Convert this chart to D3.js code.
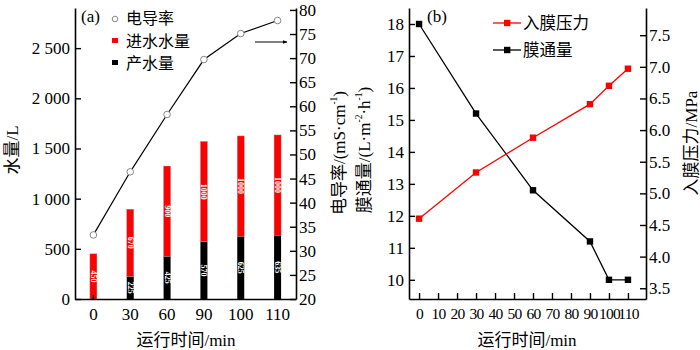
<!DOCTYPE html>
<html>
<head>
<meta charset="utf-8">
<script src="https://cdn.jsdelivr.net/npm/d3@7"></script>
<style>
  body { margin: 0; background: #fff; }
</style>
</head>
<body>
<svg id="chart" width="700" height="350"></svg>
<script>
// (a) 水量 + 电导率
const timesA = ['0', '30', '60', '90', '100', '110'];
const inflow = [450, 670, 900, 1000, 1000, 1000];
const product = [0, 225, 425, 570, 625, 635];
const conductivity = [33.3, 46.4, 58.3, 69.7, 75.1, 77.8];
const waterTicks = [0, 500, 1000, 1500, 2000, 2500];
const condTicks = [20, 25, 30, 35, 40, 45, 50, 55, 60, 65, 70, 75, 80];

// (b) 膜通量 + 入膜压力
const timesB = [0, 30, 60, 90, 100, 110];
const pressure = [4.6, 5.33, 5.88, 6.41, 6.7, 6.97];
const flux = [18.0, 15.2, 12.8, 11.2, 10.0, 10.0];
const fluxTicks = [10, 11, 12, 13, 14, 15, 16, 17, 18];
const pressureTicks = [3.5, 4.0, 4.5, 5.0, 5.5, 6.0, 6.5, 7.0, 7.5];
const minuteTicks = d3.range(0, 111, 10);

const FONT = '"Liberation Serif", "Times New Roman", "Noto Sans CJK SC", serif';
const svg = d3.select('#chart').attr('font-family', FONT);
const plotTop = 8, plotBottom = 299;
const fs = 17;

function styleAxis(g) {
  g.attr('font-family', FONT).attr('font-size', fs);
  g.select('.domain').attr('stroke', '#000').attr('stroke-width', 1.6);
  g.selectAll('.tick line').attr('stroke', '#000').attr('stroke-width', 1.4);
  g.selectAll('.tick text').attr('fill', '#000');
}

function rotLabel(x, y, parts) {
  const t = svg.append('text')
    .attr('transform', `translate(${x},${y}) rotate(-90)`)
    .attr('text-anchor', 'middle')
    .attr('dominant-baseline', 'central')
    .attr('font-size', fs);
  parts.forEach(([s, sup]) => {
    if (sup) {
      t.append('tspan').attr('font-size', 9.5).attr('baseline-shift', '55%').text(s);
    } else {
      t.append('tspan').text(s);
    }
  });
  return t;
}

// ---------- panel (a) ----------
const ax = d3.scaleBand().domain(timesA).range([75, 296]).padding(0);
const ayL = d3.scaleLinear().domain([0, 2900]).range([plotBottom, plotTop]);
const ayR = d3.scaleLinear().domain([20, 80.4]).range([plotBottom, plotTop]);
const barW = 7;

const barsA = svg.append('g');
timesA.forEach((t, i) => {
  const cx = ax(t) + ax.bandwidth() / 2;
  const total = product[i] + inflow[i];
  // 产水量 (black, bottom)
  if (product[i] > 0) {
    barsA.append('rect')
      .attr('x', cx - barW / 2).attr('width', barW)
      .attr('y', ayL(product[i])).attr('height', ayL(0) - ayL(product[i]))
      .attr('fill', '#000');
  }
  // 进水水量 (red, stacked)
  barsA.append('rect')
    .attr('x', cx - barW / 2).attr('width', barW)
    .attr('y', ayL(total)).attr('height', ayL(product[i]) - ayL(total))
    .attr('fill', '#ff0000').attr('stroke', '#999').attr('stroke-width', 0.4);

  const redMid = (ayL(total) + ayL(product[i])) / 2;
  barsA.append('text')
    .attr('transform', `translate(${cx},${redMid}) rotate(90)`)
    .attr('text-anchor', 'middle').attr('dominant-baseline', 'central')
    .attr('font-size', 8).attr('font-weight', 'bold').attr('fill', '#fff')
    .text(inflow[i]);
  if (product[i] > 0) {
    const blackMid = (ayL(product[i]) + ayL(0)) / 2;
    barsA.append('text')
      .attr('transform', `translate(${cx},${blackMid}) rotate(90)`)
      .attr('text-anchor', 'middle').attr('dominant-baseline', 'central')
      .attr('font-size', 8).attr('font-weight', 'bold').attr('fill', '#fff')
      .text(product[i]);
  }
});

const condLine = d3.line()
  .x((d, i) => ax(timesA[i]) + ax.bandwidth() / 2)
  .y((d) => ayR(d));
svg.append('path').datum(conductivity)
  .attr('d', condLine).attr('fill', 'none').attr('stroke', '#000').attr('stroke-width', 1.2);
svg.append('g').selectAll('circle').data(conductivity).join('circle')
  .attr('cx', (d, i) => ax(timesA[i]) + ax.bandwidth() / 2)
  .attr('cy', (d) => ayR(d))
  .attr('r', 3.3).attr('fill', '#fff').attr('stroke', '#888').attr('stroke-width', 1);

const fmtSpace = (v) => (v >= 1000 ? `${Math.floor(v / 1000)} ${String(v % 1000).padStart(3, '0')}` : String(v));

svg.append('g').attr('transform', `translate(0,${plotBottom})`)
  .call(d3.axisBottom(ax).tickSizeInner(-4).tickSizeOuter(0).tickPadding(9))
  .call(styleAxis);
svg.append('g').attr('transform', 'translate(75,0)')
  .call(d3.axisLeft(ayL).tickValues(waterTicks).tickFormat(fmtSpace).tickSizeInner(-6).tickSizeOuter(0).tickPadding(5))
  .call(styleAxis);
svg.append('g').attr('transform', 'translate(296,0)')
  .call(d3.axisRight(ayR).tickValues(condTicks).tickSizeInner(-6).tickSizeOuter(0).tickPadding(3))
  .call(styleAxis);

// legend (a)
svg.append('text').attr('x', 81).attr('y', 22).attr('font-size', fs).text('(a)');
svg.append('circle').attr('cx', 115).attr('cy', 19).attr('r', 2.8).attr('fill', '#fff').attr('stroke', '#888');
svg.append('rect').attr('x', 112).attr('y', 38).attr('width', 6).attr('height', 5).attr('fill', '#ff0000');
svg.append('rect').attr('x', 112).attr('y', 60).attr('width', 6).attr('height', 5).attr('fill', '#000');
[['电导率', 24], ['进水水量', 47], ['产水量', 69]].forEach(([s, y]) => {
  svg.append('text').attr('x', 126).attr('y', y).attr('font-size', 16).text(s);
});

// arrow → right axis
svg.append('defs').append('marker').attr('id', 'arrow')
  .attr('viewBox', '0 0 10 10').attr('refX', 9).attr('refY', 5)
  .attr('markerWidth', 5).attr('markerHeight', 5).attr('orient', 'auto')
  .append('path').attr('d', 'M0,1L10,5L0,9Z').attr('fill', '#000');
svg.append('line').attr('x1', 255).attr('x2', 287).attr('y1', 42).attr('y2', 42)
  .attr('stroke', '#000').attr('stroke-width', 1).attr('marker-end', 'url(#arrow)');

rotLabel(12, 150, [['水量/L']]);
rotLabel(339, 153, [['电导率/(mS·cm'], ['-1', true], [')']]);
svg.append('text').attr('x', 186).attr('y', 346).attr('text-anchor', 'middle').attr('font-size', fs).text('运行时间/min');

// ---------- panel (b) ----------
const bx = d3.scaleLinear().domain([-5.3, 119.5]).range([409, 646]);
const byL = d3.scaleLinear().domain([9.4, 18.5]).range([plotBottom, plotTop]);
const byR = d3.scaleLinear().domain([3.33, 7.93]).range([plotBottom, plotTop]);

const seriesB = [
  { values: flux, y: byL, color: '#000' },
  { values: pressure, y: byR, color: '#ff0000' }
];
seriesB.forEach((s) => {
  const line = d3.line().x((d, i) => bx(timesB[i])).y((d) => s.y(d));
  svg.append('path').datum(s.values).attr('d', line)
    .attr('fill', 'none').attr('stroke', s.color).attr('stroke-width', 1.3);
  svg.append('g').selectAll('rect').data(s.values).join('rect')
    .attr('x', (d, i) => bx(timesB[i]) - 3.2)
    .attr('y', (d) => s.y(d) - 3.2)
    .attr('width', 6.4).attr('height', 6.4).attr('fill', s.color);
});

svg.append('g').attr('transform', `translate(0,${plotBottom})`)
  .call(d3.axisBottom(bx).tickValues(minuteTicks).tickSizeInner(-6).tickSizeOuter(0).tickPadding(9))
  .call(styleAxis)
  .call((g) => g.selectAll('.tick text').attr('font-size', 15.5).attr('letter-spacing', -0.8));
svg.append('g').attr('transform', 'translate(409,0)')
  .call(d3.axisLeft(byL).tickValues(fluxTicks).tickSizeInner(-6).tickSizeOuter(0).tickPadding(5))
  .call(styleAxis);
svg.append('g').attr('transform', 'translate(646,0)')
  .call(d3.axisRight(byR).tickValues(pressureTicks).tickFormat(d3.format('.1f')).tickSizeInner(-6).tickSizeOuter(0).tickPadding(3))
  .call(styleAxis);

// legend (b)
svg.append('text').attr('x', 427).attr('y', 22).attr('font-size', fs).text('(b)');
[['入膜压力', '#ff0000', 23], ['膜通量', '#000', 50]].forEach(([s, c, y]) => {
  svg.append('line').attr('x1', 493).attr('x2', 521).attr('y1', y).attr('y2', y).attr('stroke', c).attr('stroke-width', 1.3);
  svg.append('rect').attr('x', 504).attr('y', y - 3.2).attr('width', 6.4).attr('height', 6.4).attr('fill', c);
  svg.append('text').attr('x', 523).attr('y', y + 6).attr('font-size', 16.5).text(s);
});

rotLabel(364, 150, [['膜通量/(L·m'], ['-2', true], ['·h'], ['-1', true], [')']]);
rotLabel(691, 143, [['入膜压力/MPa']]);
svg.append('text').attr('x', 527).attr('y', 346).attr('text-anchor', 'middle').attr('font-size', fs).text('运行时间/min');
</script>
</body>
</html>
